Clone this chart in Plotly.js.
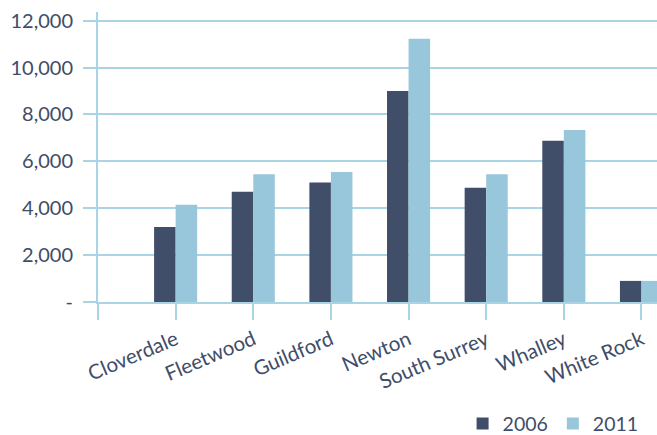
<!DOCTYPE html>
<html>
<head>
<meta charset="utf-8">
<script src="https://cdn.plot.ly/plotly-3.0.1.min.js"></script>
<style>html,body{margin:0;padding:0;background:#fff;}#chart{width:657px;height:435px;}</style>
</head>
<body>
<div id="chart"></div>
<script>
const categories = ["Cloverdale", "Fleetwood", "Guildford", "Newton", "South Surrey", "Whalley", "White Rock"];
const values2006 = [3200, 4700, 5100, 9000, 4870, 6880, 900];
const values2011 = [4150, 5450, 5550, 11230, 5450, 7340, 900];
const yTickVals = [0, 2000, 4000, 6000, 8000, 10000, 12000];
const yTickText = ["-", "2,000", "4,000", "6,000", "8,000", "10,000", "12,000"];

const positions = categories.map((c, i) => i + 1);
const dark = "#414e6a";
const light = "#98c7db";
const lineCol = "#a8d4e3";
const textCol = "#404d69";
const fontFam = "Lato, 'Open Sans', sans-serif";

const data = [
  {type: "bar", name: "2006", x: positions, y: values2006, marker: {color: dark}},
  {type: "bar", name: "2011", x: positions, y: values2011, marker: {color: light}}
];

const layout = {
  width: 657, height: 435,
  margin: {l: 98, r: 0, t: 12, b: 133, pad: 0, autoexpand: false},
  paper_bgcolor: "#fff", plot_bgcolor: "#fff",
  barmode: "group", bargap: 0.445, bargroupgap: 0,
  font: {family: fontFam, color: textCol, size: 20},
  showlegend: true,
  legend: {orientation: "h", x: 0.976, xanchor: "right", y: -0.42, yanchor: "middle",
           font: {size: 19.5, color: textCol}, traceorder: "normal"},
  xaxis: {
    range: [0, 7.2], tickvals: [0].concat(positions), ticktext: [""].concat(categories),
    tickangle: -23, ticks: "outside", ticklen: 16, tickwidth: 2, tickcolor: lineCol,
    showline: true, linecolor: lineCol, linewidth: 2, showgrid: false, zeroline: false,
    tickfont: {size: 20.5, color: textCol}, fixedrange: true, automargin: false
  },
  yaxis: {
    range: [0, 12370], tickvals: yTickVals, ticktext: yTickText,
    ticks: "outside", ticklen: 13, tickwidth: 2, tickcolor: lineCol,
    showgrid: true, gridcolor: lineCol, gridwidth: 2,
    showline: true, linecolor: lineCol, linewidth: 2, zeroline: false,
    ticklabelstandoff: 6,
    tickfont: {size: 20, color: textCol}, fixedrange: true, automargin: false
  }
};

Plotly.newPlot("chart", data, layout, {displayModeBar: false, staticPlot: true});
</script>
</body>
</html>
